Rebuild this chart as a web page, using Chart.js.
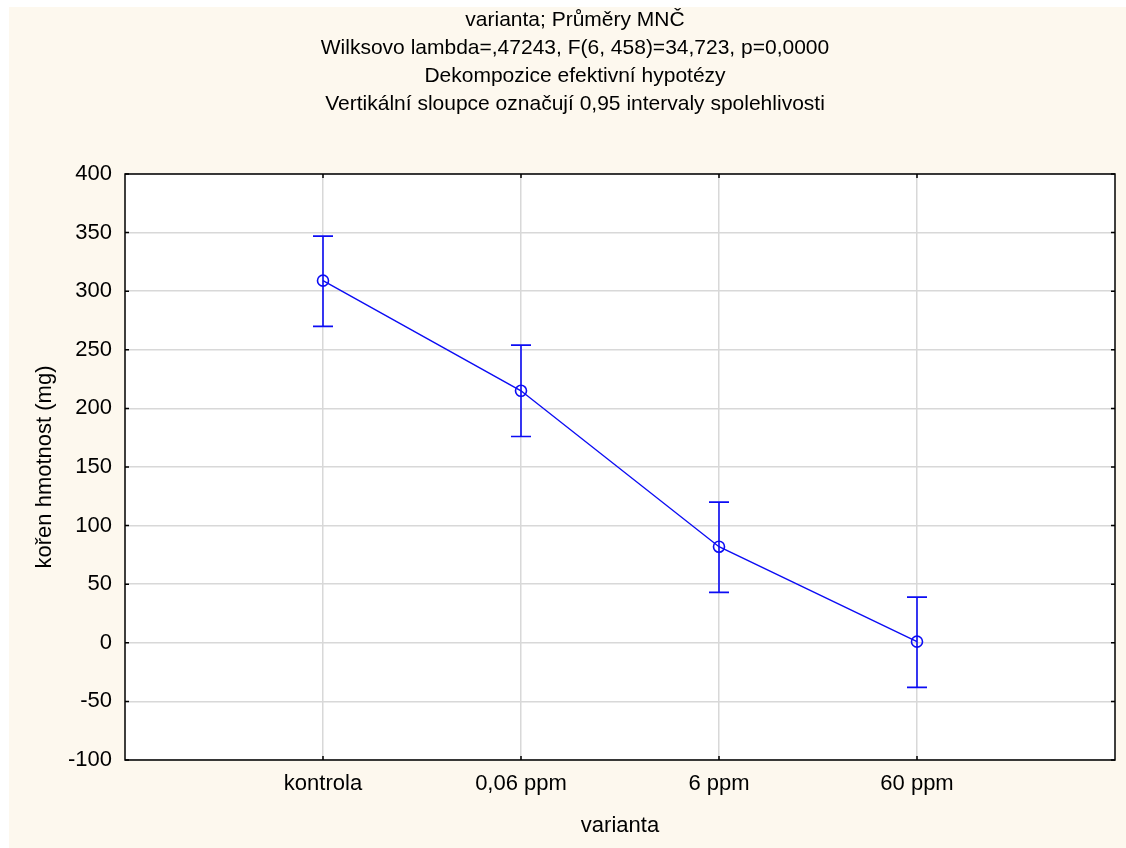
<!DOCTYPE html>
<html>
<head>
<meta charset="utf-8">
<script src="https://cdn.jsdelivr.net/npm/chart.js@4.4.1/dist/chart.umd.min.js"></script>
<style>
    html, body { margin: 0; padding: 0; background: #ffffff; }
    #panel { position: absolute; left: 9px; top: 7px; width: 1117px; height: 841px; background: #fdf8ee; }
    #chart { display: block; }
</style>
</head>
<body>
<div id="panel"><canvas id="chart" width="1117" height="841"></canvas></div>
<script>
// data
const categories = ['kontrola', '0,06 ppm', '6 ppm', '60 ppm'];
const means = [309, 215, 82, 1];
const upper = [347, 254, 120, 39];
const lower = [270, 176, 43, -38];
const yTicks = [-100, -50, 0, 50, 100, 150, 200, 250, 300, 350, 400];
const titleLines = [
    'varianta; Průměry MNČ',
    'Wilksovo lambda=,47243, F(6, 458)=34,723, p=0,0000',
    'Dekompozice efektivní hypotézy',
    'Vertikální sloupce označují 0,95 intervaly spolehlivosti'
];

const blue = '#0c0cf4';
const fontFamily = '"Liberation Sans", Arial, sans-serif';

// white plot background
const plotBg = {
    id: 'plotBg',
    beforeDraw(chart) {
        const a = chart.chartArea;
        chart.ctx.save();
        chart.ctx.fillStyle = '#ffffff';
        chart.ctx.fillRect(a.left, a.top, a.right - a.left, a.bottom - a.top);
        chart.ctx.restore();
    }
};

// titles, error bars, frame and inward tick marks
const extras = {
    id: 'extras',
    afterDraw(chart) {
        const ctx = chart.ctx;
        const area = chart.chartArea;
        const xs = chart.scales.x;
        const ys = chart.scales.y;
        ctx.save();

        // error bars
        ctx.strokeStyle = blue;
        ctx.lineWidth = 1.6;
        categories.forEach((c, i) => {
            const x = xs.getPixelForValue(i + 1);
            const yt = ys.getPixelForValue(upper[i]);
            const yb = ys.getPixelForValue(lower[i]);
            ctx.beginPath();
            ctx.moveTo(x, yt); ctx.lineTo(x, yb);
            ctx.moveTo(x - 10, yt); ctx.lineTo(x + 10, yt);
            ctx.moveTo(x - 10, yb); ctx.lineTo(x + 10, yb);
            ctx.stroke();
        });

        // frame
        ctx.strokeStyle = '#000';
        ctx.lineWidth = 1.5;
        ctx.strokeRect(area.left, area.top, area.right - area.left, area.bottom - area.top);
        ctx.beginPath();
        yTicks.forEach(v => {
            const y = ys.getPixelForValue(v);
            ctx.moveTo(area.left, y); ctx.lineTo(area.left + 4, y);
            ctx.moveTo(area.right, y); ctx.lineTo(area.right - 4, y);
        });
        categories.forEach((c, i) => {
            const x = xs.getPixelForValue(i + 1);
            ctx.moveTo(x, area.bottom); ctx.lineTo(x, area.bottom - 4);
            ctx.moveTo(x, area.top); ctx.lineTo(x, area.top + 4);
        });
        ctx.stroke();

        // title lines
        ctx.fillStyle = '#000';
        ctx.font = '21px ' + fontFamily;
        ctx.textAlign = 'center';
        ctx.textBaseline = 'middle';
        titleLines.forEach((t, i) => {
            ctx.fillText(t, 566, 13 + i * 28);
        });
        ctx.restore();
    }
};

new Chart(document.getElementById('chart'), {
    type: 'line',
    data: {
        datasets: [{
            data: means.map((m, i) => ({ x: i + 1, y: m })),
            borderColor: blue,
            borderWidth: 1.4,
            pointStyle: 'circle',
            pointRadius: 5.5,
            pointBorderWidth: 1.6,
            pointBorderColor: blue,
            pointBackgroundColor: 'rgba(0,0,0,0)',
            tension: 0
        }]
    },
    options: {
        responsive: false,
        animation: false,
        layout: { padding: { top: 167, right: 11, bottom: 5, left: 19 } },
        plugins: { legend: { display: false }, tooltip: { enabled: false } },
        scales: {
            x: {
                type: 'linear',
                min: 0,
                max: 5,
                afterBuildTicks: axis => { axis.ticks = categories.map((c, i) => ({ value: i + 1 })); },
                afterFit: scale => { scale.height = 83; },
                grid: { color: '#d8d8d8', lineWidth: 1.5, drawTicks: false },
                border: { display: false },
                ticks: {
                    autoSkip: false,
                    maxRotation: 0,
                    padding: 11,
                    color: '#000',
                    font: { family: fontFamily, size: 22 },
                    callback: v => categories[v - 1] || ''
                },
                title: { display: true, text: 'varianta', color: '#000', font: { family: fontFamily, size: 22 } }
            },
            y: {
                min: -100,
                max: 400,
                afterBuildTicks: axis => { axis.ticks = yTicks.map(v => ({ value: v })); },
                afterFit: scale => { scale.width = 97; },
                grid: { color: '#d8d8d8', lineWidth: 1.5, drawTicks: false },
                border: { display: false },
                ticks: {
                    padding: 13,
                    color: '#000',
                    font: { family: fontFamily, size: 22 }
                },
                title: { display: true, text: 'kořen hmotnost (mg)', color: '#000', font: { family: fontFamily, size: 22 } }
            }
        }
    },
    plugins: [plotBg, extras]
});
</script>
</body>
</html>
